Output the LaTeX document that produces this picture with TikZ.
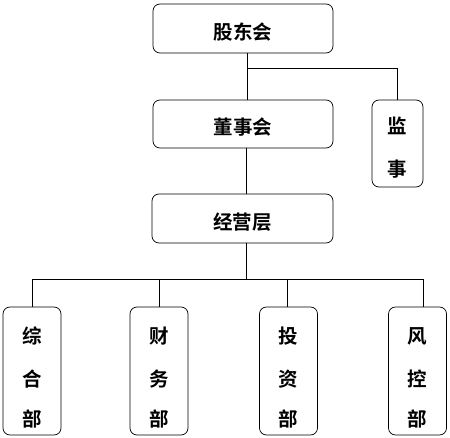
\documentclass[tikz,border=0pt]{standalone}
\usepackage{fontspec}
\newfontfamily\cjk{Noto Sans CJK SC}[BoldFont={Noto Sans CJK SC Bold}]
\begin{document}
\begin{tikzpicture}[x=1pt,y=-1pt,
  box/.style={draw=black, line width=0.7pt, rounded corners=7pt, inner sep=0pt},
  conn/.style={draw=black, line width=0.7pt},
  lbl/.style={font=\cjk\bfseries\fontsize{19.5}{21}\selectfont}]
\useasboundingbox (0,0) rectangle (450,438);
% top boxes
\node[box, minimum width=180pt, minimum height=49pt] (gd) at (243,28.5) {};
\node[lbl] at (243,32) {股东会};
\node[box, minimum width=180pt, minimum height=48pt] (ds) at (243,124) {};
\node[lbl] at (243,127) {董事会};
\node[box, minimum width=51pt, minimum height=87pt] (js) at (397.5,143.5) {};
\node[lbl] at (397.5,126) {监};
\node[lbl] at (397.5,169) {事};
\node[box, minimum width=181pt, minimum height=49pt] (jy) at (242.5,218.5) {};
\node[lbl] at (242.5,222) {经营层};
% departments
\foreach \n/\x/\a/\b/\c in {zh/32/综/合/部, cw/159/财/务/部, tz/288.5/投/资/部, fk/417.5/风/控/部}{
  \node[box, minimum width=58pt, minimum height=128pt] (\n) at (\x,371) {};
  \node[lbl] at (\x,336) {\a};
  \node[lbl] at (\x,379) {\b};
  \node[lbl] at (\x,419) {\c};
}
% connectors
\coordinate (t1) at (247,68);
\draw[conn] (gd.south -| t1) -- (ds.north -| t1);
\draw[conn] (t1) -| (js.north);
\draw[conn] (ds.south -| 246,0) -- (jy.north -| 246,0);
\coordinate (h) at (246,279);
\draw[conn] (jy.south -| h) -- (h);
\draw[conn] (zh.north -| 32,0) -- (32,279) -- (423,279) -- (fk.north -| 423,0);
\draw[conn] (159,279) -- (cw.north -| 159,0);
\draw[conn] (287,279) -- (tz.north -| 287,0);
\end{tikzpicture}
\end{document}
